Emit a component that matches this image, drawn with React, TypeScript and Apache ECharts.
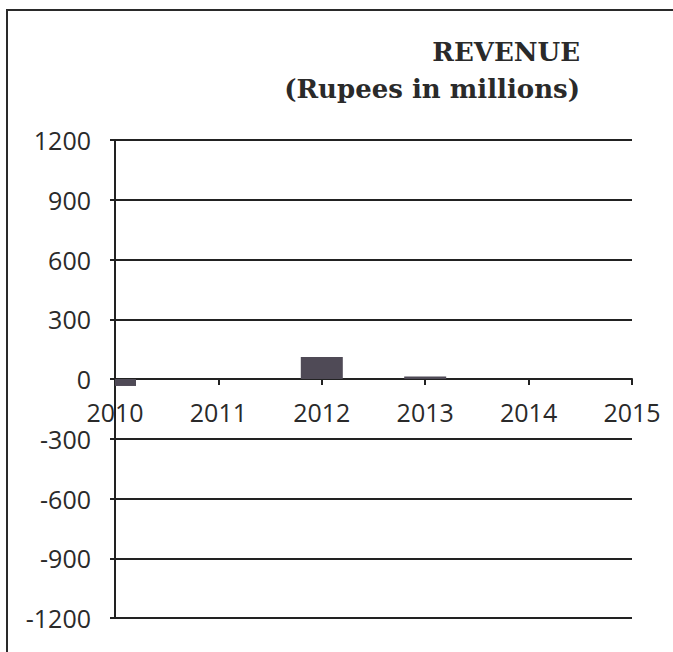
import React, { useEffect, useRef } from "react";
import * as echarts from "echarts";

const categories = ["2010", "2011", "2012", "2013", "2014", "2015"];
const revenue = [-35, 0, 110, 12, 0, 0];
const yMin = -1200;
const yMax = 1200;
const yInterval = 300;
const titleText = "REVENUE\n(Rupees in millions)";

export default function App() {
  const ref = useRef<HTMLDivElement>(null);
  useEffect(() => {
    if (!ref.current) return;
    const chart = echarts.init(ref.current, undefined, { renderer: "svg" });
    const barData = categories.map((c, i) => [i, revenue[i]]);
    chart.setOption({
      animation: false,
      backgroundColor: "#ffffff",
      title: {
        text: titleText,
        left: 575,
        top: 28,
        textAlign: "right",
        textStyle: {
          fontFamily: "DejaVu Serif",
          fontWeight: "bold",
          fontSize: 26,
          lineHeight: 37,
          color: "#2a2a2a",
        },
      },
      graphic: [
        {
          type: "polyline",
          shape: { points: [[7, 652], [7, 10], [673, 10]] },
          style: { fill: "none", stroke: "#2a2a2a", lineWidth: 2 },
          silent: true,
        },
      ],
      grid: { left: 115, right: 41, top: 140, bottom: 34, containLabel: false },
      xAxis: {
        type: "category",
        data: categories,
        boundaryGap: false,
        offset: -239,
        axisLine: { onZero: false, lineStyle: { color: "#222", width: 2 } },
        axisTick: { show: true, length: 6, alignWithLabel: true, lineStyle: { color: "#222", width: 2 } },
        axisLabel: {
          margin: 20,
          fontFamily: "Open Sans",
          fontSize: 25,
          color: "#2a2a2a",
          showMinLabel: true,
          showMaxLabel: true,
          interval: 0,
        },
        splitLine: { show: false },
      },
      yAxis: {
        type: "value",
        min: yMin,
        max: yMax,
        interval: yInterval,
        axisLine: { show: true, onZero: false, lineStyle: { color: "#222", width: 2 } },
        axisTick: { show: true, length: 5, lineStyle: { color: "#222", width: 2 } },
        axisLabel: {
          margin: 24,
          fontFamily: "Open Sans",
          fontSize: 25,
          color: "#2a2a2a",
          formatter: (v: number) => String(v),
        },
        splitLine: { show: true, lineStyle: { color: "#222", width: 2 } },
      },
      series: [
        {
          type: "custom",
          data: barData,
          renderItem: (params: any, api: any) => {
            const cat = api.value(0);
            const val = api.value(1);
            const p0 = api.coord([cat, 0]);
            const p1 = api.coord([cat, val]);
            const w = 42;
            const rect = echarts.graphic.clipRectByRect(
              {
                x: p0[0] - w / 2,
                y: Math.min(p0[1], p1[1]),
                width: w,
                height: Math.abs(p1[1] - p0[1]),
              },
              {
                x: params.coordSys.x,
                y: params.coordSys.y,
                width: params.coordSys.width,
                height: params.coordSys.height,
              }
            );
            if (!rect) return null;
            return {
              type: "rect",
              shape: rect,
              style: { fill: "#4f4a56" },
            };
          },
          encode: { x: 0, y: 1 },
          z: 3,
        },
      ],
    });
    return () => chart.dispose();
  }, []);
  return (
    <div
      ref={ref}
      style={{ position: "fixed", left: 0, top: 0, width: 673, height: 652 }}
    />
  );
}
